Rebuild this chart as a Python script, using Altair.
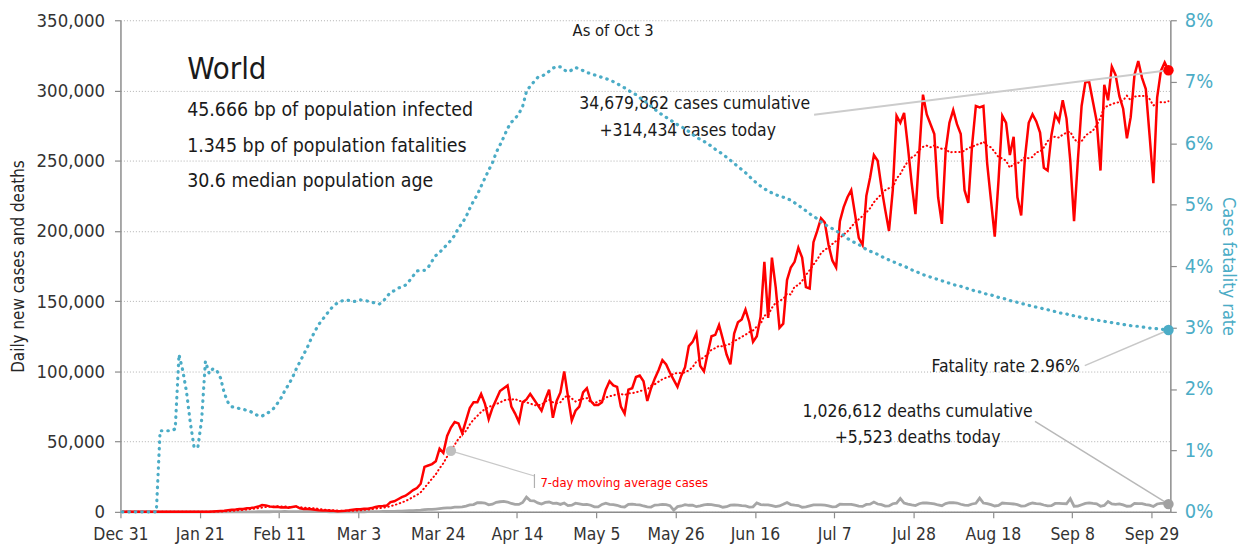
import altair as alt
import pandas as pd

# ---------------- data ----------------
# daily new cases, Dec 31 2019 .. Oct 3 2020
dec_cases = [27]
jan_cases = [0, 0, 17, 0, 15, 0, 0, 0, 0, 0, 0, 0, 1, 0, 1, 0, 5, 17, 136, 19, 151, 140, 97, 259, 441, 665, 787, 1250, 1500, 1700, 2000]
feb_cases = [2100, 2600, 2800, 3200, 3800, 4900, 4600, 3900, 3500, 3600, 3100, 3300, 3000, 3500, 4000, 2500, 2100, 2000, 1900, 1500,
             1100, 1000, 900, 800, 700, 500, 600, 800, 1100]
mar_cases = [1500, 1800, 1900, 2200, 2300, 2700, 3500, 4000, 4200, 4500, 7000, 7500, 9000, 10500, 11500, 13500, 15500, 17000, 20000, 32000,
             33000, 34000, 36000, 45000, 42000, 54000, 60000, 64000, 63000, 56000, 65000]
apr_cases = [74000, 78000, 78000, 84000, 77000, 66000, 74000, 80000, 86000, 88000, 90000, 75000, 70000, 64000, 78000, 80000, 84000, 80000,
             76000, 72000, 80000, 87000, 67000, 79000, 85000, 100000, 82000, 65000, 72000, 75000]
may_cases = [85000, 88000, 79000, 76000, 76000, 78000, 87000, 93000, 90000, 89000, 75000, 70000, 87000, 88000, 96000, 97000, 93000, 79000,
             88000, 95000, 101000, 108000, 105000, 99000, 94000, 89000, 97000, 103000, 118000, 121000, 127000]
jun_cases = [104000, 100000, 113000, 125000, 126000, 133000, 123000, 112000, 105000, 127000, 135000, 137000, 144000, 135000, 121000,
             125000, 139000, 178000, 138000, 181000, 160000, 131000, 134000, 165000, 174000, 178000, 188000, 181000, 160000, 159000]
jul_cases = [192000, 200000, 209000, 206000, 190000, 179000, 174000, 207000, 217000, 224000, 229000, 212000, 195000, 190000, 225000,
             238000, 254000, 250000, 231000, 215000, 200000, 229000, 282000, 277000, 284000, 260000, 234000, 212000, 255000, 297000, 283000]
aug_cases = [276000, 269000, 224000, 205000, 257000, 277000, 286000, 276000, 269000, 229000, 220000, 261000, 289000, 288000, 289000,
             248000, 222000, 196000, 236000, 282000, 277000, 254000, 267000, 224000, 211000, 252000, 277000, 283000, 278000, 270000, 245000]
sep_cases = [243000, 268000, 283000, 278000, 293000, 280000, 250000, 207000, 250000, 289000, 306000, 306000, 292000, 278000, 243000,
             304000, 293000, 317000, 311000, 296000, 287000, 266000, 281000, 311000, 321000, 309000, 301000, 268000, 234000, 295000]
oct_cases = [314000, 320000, 314434]

# daily new deaths
dec_deaths = [0]
jan_deaths = [0] * 10 + [1, 0, 0, 0, 0, 0, 0, 0, 0, 0, 3, 0, 8, 16, 15, 24, 26, 26, 38, 43, 46]
feb_deaths = [45, 57, 64, 66, 73, 73, 86, 89, 97, 108, 97, 254, 121, 143, 142, 105, 98, 136, 115, 118, 109, 97, 150, 71, 52, 29, 44, 47, 35]
mar_deaths = [60, 70, 80, 90, 100, 110, 100, 230, 250, 300, 350, 400, 450, 550, 750, 850, 900, 1100, 1300, 1600, 1800, 1700, 2000, 2300,
              2600, 2900, 2900, 3400, 3400, 3600, 4100]
apr_deaths = [4900, 5200, 6500, 6600, 6300, 5000, 5500, 6800, 7200, 7500, 7000, 6000, 5400, 5300, 6700, 10500, 8000, 7900, 6400, 5600,
              6700, 7000, 6100, 6200, 5300, 6300, 4500, 4800, 6200, 5700]
may_deaths = [5200, 5300, 4700, 3600, 3500, 5300, 6200, 5300, 5200, 4700, 3800, 3500, 5400, 5500, 5200, 5000, 4200, 3600, 3400, 4800,
              5000, 5300, 5100, 4400, 1200, 3700, 4200, 5100, 4700, 4800, 3700]
jun_deaths = [4300, 5000, 5300, 5100, 4700, 4300, 3300, 3700, 4800, 5000, 4800, 4400, 4200, 3400, 3600, 6400, 5200, 5000, 4900, 4400,
              3700, 4200, 5400, 6700, 5200, 4800, 4500, 3300, 3500, 4200]
jul_deaths = [4900, 5000, 5000, 4800, 4300, 3500, 3800, 5400, 5300, 5400, 5300, 4800, 4100, 3900, 5300, 5500, 7000, 5600, 5100, 4100,
              4200, 5800, 6200, 9600, 6300, 5500, 4900, 4500, 5800, 6400, 6300]
aug_deaths = [6100, 5700, 4900, 4400, 5900, 6500, 6600, 6300, 5400, 4800, 4600, 5600, 6100, 9800, 6300, 5800, 5100, 4200, 4600, 6300,
              6100, 5900, 5600, 5100, 4100, 4200, 5500, 6300, 5900, 5700, 4900]
sep_deaths = [4200, 4400, 6000, 6000, 5900, 5800, 9400, 4000, 4100, 5100, 6000, 6400, 6000, 5700, 4000, 4600, 7300, 5600, 5400, 5700,
              5000, 4000, 4100, 6000, 5900, 5800, 5200, 4800, 3800, 5600]
oct_deaths = [6100, 6000, 5523]

# case fatality rate, percent
dec_cfr = [0]
jan_cfr = [0] * 9 + [1.32, 1.32, 1.32, 1.32, 1.35, 2.56, 2.3, 1.95, 1.45, 1.05, 1.05, 1.5, 2.45, 2.25, 2.33, 2.3, 2.18, 1.93, 1.78,
                     1.71, 1.70, 1.68]
feb_cfr = [1.67, 1.65, 1.63, 1.60, 1.56, 1.56, 1.59, 1.63, 1.68, 1.76, 1.85, 1.97, 2.07, 2.18, 2.32, 2.44, 2.56, 2.68, 2.82, 2.94,
           3.05, 3.13, 3.21, 3.29, 3.36, 3.40, 3.43, 3.45, 3.44]
mar_cfr = [3.42, 3.43, 3.45, 3.44, 3.43, 3.41, 3.40, 3.38, 3.42, 3.50, 3.57, 3.60, 3.64, 3.66, 3.69, 3.76, 3.84, 3.92, 3.93, 3.93,
           3.98, 4.08, 4.17, 4.22, 4.29, 4.35, 4.42, 4.50, 4.62, 4.70, 4.80]
apr_cfr = [4.94, 5.06, 5.16, 5.30, 5.43, 5.56, 5.68, 5.85, 5.97, 6.10, 6.24, 6.34, 6.40, 6.48, 6.60, 6.84, 6.93, 7.00, 7.07, 7.09,
           7.12, 7.17, 7.22, 7.25, 7.24, 7.19, 7.16, 7.19, 7.23, 7.21]
may_cfr = [7.18, 7.15, 7.13, 7.11, 7.09, 7.07, 7.05, 7.03, 7.00, 6.97, 6.93, 6.90, 6.86, 6.82, 6.79, 6.74, 6.70, 6.65, 6.60, 6.55,
           6.50, 6.46, 6.42, 6.38, 6.34, 6.30, 6.27, 6.23, 6.19, 6.14, 6.10]
jun_cfr = [6.06, 6.03, 5.99, 5.95, 5.90, 5.86, 5.82, 5.77, 5.72, 5.67, 5.62, 5.57, 5.52, 5.46, 5.40, 5.35, 5.30, 5.26, 5.22, 5.19,
           5.16, 5.14, 5.12, 5.10, 5.07, 5.03, 4.99, 4.94, 4.90, 4.85]
jul_cfr = [4.81, 4.77, 4.72, 4.68, 4.64, 4.61, 4.57, 4.54, 4.50, 4.45, 4.41, 4.38, 4.35, 4.31, 4.27, 4.24, 4.22, 4.19, 4.16, 4.12,
           4.10, 4.07, 4.05, 4.02, 4.00, 3.97, 3.94, 3.91, 3.89, 3.86, 3.84]
aug_cfr = [3.82, 3.80, 3.78, 3.76, 3.74, 3.72, 3.70, 3.68, 3.67, 3.65, 3.63, 3.61, 3.59, 3.58, 3.56, 3.54, 3.53, 3.51, 3.49, 3.48,
           3.46, 3.44, 3.42, 3.41, 3.39, 3.38, 3.36, 3.35, 3.33, 3.32, 3.30]
sep_cfr = [3.29, 3.27, 3.26, 3.24, 3.23, 3.22, 3.20, 3.19, 3.18, 3.16, 3.15, 3.14, 3.13, 3.12, 3.11, 3.10, 3.09, 3.08, 3.07, 3.06,
           3.05, 3.04, 3.03, 3.02, 3.02, 3.01, 3.00, 2.99, 2.99, 2.98]
oct_cfr = [2.97, 2.97, 2.96]

tick_dates = ["2019-12-31", "2020-01-21", "2020-02-11", "2020-03-03", "2020-03-24", "2020-04-14", "2020-05-05",
              "2020-05-26", "2020-06-16", "2020-07-07", "2020-07-28", "2020-08-18", "2020-09-08", "2020-09-29"]
left_ticks = [0, 50000, 100000, 150000, 200000, 250000, 300000, 350000]
right_ticks = [0, 1, 2, 3, 4, 5, 6, 7, 8]
ma_label_date = "2020-03-27"

title_text = "World"
info_lines = ["45.666 bp of population infected", "1.345 bp of population fatalities", "30.6 median population age"]
asof_text = "As of Oct 3"
cases_note = ["34,679,862 cases cumulative", "+314,434 cases today"]
deaths_note = ["1,026,612 deaths cumulative", "+5,523 deaths today"]
cfr_note = "Fatality rate 2.96%"
ma_note = "7-day moving average cases"

# ---------------- assemble ----------------
cases = dec_cases + jan_cases + feb_cases + mar_cases + apr_cases + may_cases + jun_cases + jul_cases + aug_cases + sep_cases + oct_cases
deaths = dec_deaths + jan_deaths + feb_deaths + mar_deaths + apr_deaths + may_deaths + jun_deaths + jul_deaths + aug_deaths + sep_deaths + oct_deaths
cfr = dec_cfr + jan_cfr + feb_cfr + mar_cfr + apr_cfr + may_cfr + jun_cfr + jul_cfr + aug_cfr + sep_cfr + oct_cfr
assert len(cases) == len(deaths) == len(cfr), (len(cases), len(deaths), len(cfr))

dates = pd.date_range("2019-12-31", periods=len(cases), freq="D").strftime("%Y-%m-%d").tolist()
df = pd.DataFrame({"date": dates, "cases": cases, "deaths": deaths, "cfr": cfr})

FONT = "DejaVu Sans Condensed, Liberation Sans Narrow, sans-serif"
RED = "#FF0000"
CYAN = "#4BACC6"
GRAY = "#A6A6A6"
TXT = "#1a1a1a"


def dt(s):
    y, m, d = (int(v) for v in s.split("-"))
    return alt.DateTime(year=y, month=m, date=d, utc=True)


x_enc = alt.X(
    "t:T",
    title=None,
    scale=alt.Scale(type="utc", domain=[dt("2019-12-31"), dt("2020-10-04")]),
    axis=alt.Axis(values=[dt(s) for s in tick_dates], labelExpr="utcFormat(datum.value, '%b %-d')",
                  grid=False, labelPadding=8, labelFontSize=17.5, labelOverlap=False, labelFlush=False),
)
left_scale = alt.Scale(domain=[0, 350000], nice=False, zero=True)
left_axis = alt.Axis(values=left_ticks, format=",d", title="Daily new cases and deaths", grid=True,
                     gridDash=[1, 2], gridColor="#b0b0b0", labelPadding=10, titlePadding=9,
                     labelFontSize=18.5, titleFontSize=17)


def ly(field):
    return alt.Y(f"{field}:Q", scale=left_scale, axis=left_axis)


base = alt.Chart(df).transform_calculate(t="time(toDate(datum.date)) + 43200000")
last = base.transform_window(rk="rank()", sort=[alt.SortField("date", order="descending")]).transform_filter("datum.rk == 1")
ma = base.transform_window(ma="mean(cases)", frame=[-6, 0], sort=[alt.SortField("t")])

deaths_line = base.mark_line(color=GRAY, strokeWidth=2.8).encode(x=x_enc, y=ly("deaths"))
cases_line = base.mark_line(color=RED, strokeWidth=2.5).encode(x=x_enc, y=ly("cases"))
ma_line = ma.mark_line(color=RED, strokeWidth=2, strokeDash=[0.5, 3.5], strokeCap="round").encode(x=x_enc, y=ly("ma"))

cases_leader = last.mark_rule(color="#cccccc", strokeWidth=2).encode(
    x=x_enc, y=ly("cases"), x2=alt.value(697), y2=alt.value(95))
deaths_leader = last.mark_rule(color="#b8b8b8", strokeWidth=1.5).encode(
    x=x_enc, y=ly("deaths"), x2=alt.value(919), y2=alt.value(403))
ma_point = ma.transform_filter(f"datum.date == '{ma_label_date}'")
ma_leader = ma_point.mark_rule(color="#c8c8c8", strokeWidth=1.2).encode(
    x=x_enc, y=ly("ma"), x2=alt.value(416), y2=alt.value(458))
ma_dot = ma_point.mark_circle(color="#bfbfbf", size=110, opacity=1).encode(x=x_enc, y=ly("ma"))
cases_dot = last.mark_circle(color=RED, size=110, opacity=1).encode(x=x_enc, y=ly("cases"))
deaths_dot = last.mark_circle(color="#a0a0a0", size=110, opacity=1).encode(x=x_enc, y=ly("deaths"))
ma_tick = alt.Chart(pd.DataFrame({"s": [ma_note]})).mark_rule(color="#b0b0b0", strokeWidth=1.2).encode(
    x=alt.value(416), y=alt.value(456), y2=alt.value(470))


def text(s, x, y, size, color=TXT, align="center", weight="normal"):
    return alt.Chart(pd.DataFrame({"s": [s]})).mark_text(
        font=FONT, fontSize=size, color=color, align=align, baseline="middle", fontWeight=weight
    ).encode(text="s:N", x=alt.value(x), y=alt.value(y))


texts = [
    text(asof_text, 495, 11, 16.5),
    text(title_text, 67, 50, 31, align="left"),
    text(info_lines[0], 67, 90, 19.5, align="left"),
    text(info_lines[1], 67, 126, 19.5, align="left"),
    text(info_lines[2], 67, 162, 19.5, align="left"),
    text(cases_note[0], 577, 84, 17.5),
    text(cases_note[1], 570, 111, 17.5),
    text(deaths_note[0], 801, 394, 17.5),
    text(deaths_note[1], 801, 420, 17.5),
    text(cfr_note, 964, 348, 17.5, align="right"),
    text(ma_note, 422, 465, 13, color=RED, align="left"),
]

left = alt.layer(deaths_line, ma_line, cases_line, cases_leader, deaths_leader, ma_leader, ma_tick,
                 ma_dot, cases_dot, deaths_dot, *texts)

right_scale = alt.Scale(domain=[0, 8], nice=False)
right_axis = alt.Axis(orient="right", values=right_ticks, labelExpr="datum.value + '%'", labelColor=CYAN,
                      title="Case fatality rate", titleColor=CYAN, grid=False, titleAngle=90,
                      labelPadding=8, titlePadding=6, labelFontSize=20, titleFontSize=18)
ry = alt.Y("cfr:Q", scale=right_scale, axis=right_axis)
cfr_line = base.mark_line(color=CYAN, strokeWidth=3.2, strokeDash=[0.5, 6], strokeCap="round").encode(x=x_enc, y=ry)
cfr_leader = last.mark_rule(color="#c8c8c8", strokeWidth=1.5).encode(x=x_enc, y=ry, x2=alt.value(969), y2=alt.value(347))
cfr_dot = last.mark_circle(color=CYAN, size=110, opacity=1).encode(x=x_enc, y=ry)
right = alt.layer(cfr_line, cfr_leader, cfr_dot)

chart = alt.layer(left, right).resolve_scale(y="independent").properties(
    width=1055, height=494, autosize=alt.AutoSizeParams(type="none"),
    padding={"left": 113, "top": 11, "right": 74, "bottom": 35},
).configure_view(stroke=None).configure_axis(
    labelFont=FONT, titleFont=FONT, labelColor="#333333", titleColor="#262626", titleFontWeight="normal",
    domainColor="#8c8c8c", domainWidth=1.5, tickColor="#8c8c8c", tickSize=6, tickWidth=1.2,
)

chart.save("out.html", embed_options={"renderer": "svg", "actions": False})
